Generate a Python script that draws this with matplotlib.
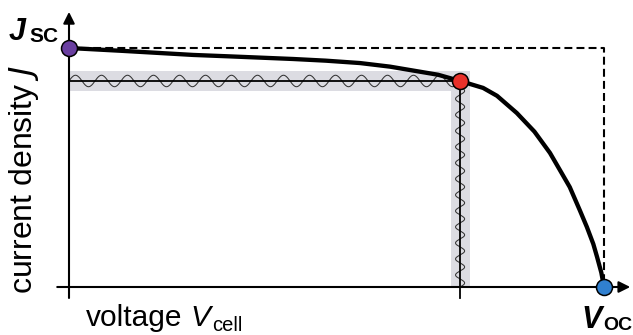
import numpy as np
import matplotlib
matplotlib.use("Agg")
import matplotlib.pyplot as plt

plt.rcParams['font.family'] = ['Liberation Sans', 'DejaVu Sans']

# J-V curve, normalised: V / Voc, J / Jsc
v_curve = [0, 0.1, 0.232, 0.3, 0.419, 0.48, 0.544, 0.6, 0.637, 0.69, 0.731,
           0.774, 0.8, 0.837, 0.87, 0.899, 0.92, 0.936, 0.955, 0.968, 0.98,
           0.987, 0.995, 1.0]
j_curve = [1.0, 0.988, 0.971, 0.965, 0.954, 0.947, 0.937, 0.922, 0.908, 0.888,
           0.862, 0.833, 0.8, 0.728, 0.65, 0.561, 0.48, 0.418, 0.32, 0.251,
           0.18, 0.126, 0.06, 0.0]

v_mpp, j_mpp = 0.731, 0.862
jsc, voc = 1.0, 1.0

W, H = 633, 335
fig = plt.figure(figsize=(W / 100, H / 100), dpi=100)
ax = fig.add_axes([0, 0, 1, 1])
ax.axis('off')
# pixel mapping: V=0 at x=69, V=1 at x=604 ; J=0 at y=287, J=1 at y=48
ax.set_xlim(-69 / 535, (W - 69) / 535)
ax.set_ylim((287 - H) / 239, 287 / 239)

band = '#dcdce2'
# fluctuation bands around the MPP
ax.fill_between([0, 0.75], j_mpp - 0.042, j_mpp + 0.042, color=band, lw=0, zorder=1)
ax.fill_between([v_mpp - 0.017, 0.75], 0, j_mpp + 0.04, color=band, lw=0, zorder=1)

# wiggles (decoration)
xs = np.linspace(0, 0.722, 600)
ax.plot(xs, j_mpp + 0.024 * np.sin(2 * np.pi * xs / 0.0486), color='#333333', lw=0.75, zorder=2)
ys = np.linspace(0, j_mpp - 0.02, 600)
ax.plot(v_mpp + 0.0085 * np.sin(2 * np.pi * ys / 0.067), ys, color='#333333', lw=0.75, zorder=2)

# MPP guide lines
ax.plot([0, v_mpp], [j_mpp, j_mpp], color='k', lw=1.3, zorder=3)
ax.plot([v_mpp, v_mpp], [-0.046, j_mpp], color='k', lw=1.3, zorder=3)

# Jsc x Voc rectangle
ax.plot([0, voc, voc], [jsc, jsc, 0], color='k', lw=1.5, ls='--', dashes=(3.8, 2.0), zorder=3)

# axes with arrows
arrow = dict(arrowstyle='-|>', color='k', lw=1.5, mutation_scale=17, shrinkA=0, shrinkB=0)
ax.annotate('', xy=(1.049, 0), xytext=(-0.022, 0), arrowprops=arrow, zorder=4)
ax.annotate('', xy=(0, 1.151), xytext=(0, -0.046), arrowprops=arrow, zorder=4)

# J-V curve
ax.plot(v_curve, j_curve, color='k', lw=3.1, solid_capstyle='round', zorder=5)

# characteristic points
ax.plot([0], [jsc], 'o', ms=11.5, mfc='#6a3fa0', mec='k', mew=1.1, zorder=6)
ax.plot([v_mpp], [j_mpp], 'o', ms=11.5, mfc='#e8302a', mec='k', mew=1.1, zorder=6)
ax.plot([voc], [0], 'o', ms=11.5, mfc='#3080d0', mec='k', mew=1.1, zorder=6)


def px(x, y):
    return x / W, 1 - y / H


# labels
fig.text(*px(9, 40), 'J', fontsize=22, fontweight='bold', fontstyle='italic', va='baseline')
fig.text(*px(29, 42), 'SC', fontsize=15, fontweight='bold', va='baseline')
fig.text(*px(581, 328), 'V', fontsize=22, fontweight='bold', fontstyle='italic', va='baseline')
fig.text(*px(603, 330), 'OC', fontsize=14, fontweight='bold', va='baseline')

fig.text(*px(86, 326), 'voltage', fontsize=21.5, va='baseline')
fig.text(*px(190, 326), 'V', fontsize=21.5, fontstyle='italic', va='baseline')
fig.text(*px(212, 331), 'cell', fontsize=14.5, va='baseline')

fig.text(*px(24, 179), 'current density $\\it{J}$', fontsize=23, rotation=90,
         ha='center', va='center')

fig.savefig('out.png', dpi=100)
